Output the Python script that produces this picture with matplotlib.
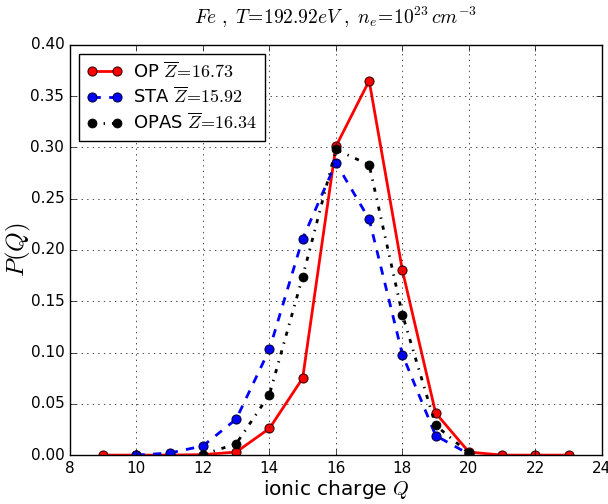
import matplotlib
matplotlib.use("Agg")
import matplotlib.pyplot as plt

plt.style.use("classic")
plt.rcParams["mathtext.fontset"] = "cm"
plt.rcParams["figure.facecolor"] = "white"

# ionic charge distributions
q_op = [9, 10, 11, 12, 13, 14, 15, 16, 17, 18, 19, 20, 21, 22, 23]
p_op = [0.0, 0.0, 0.0, 0.0005, 0.003, 0.026, 0.075, 0.301, 0.365, 0.180, 0.041, 0.003, 0.0, 0.0, 0.0]

q_sta = [10, 11, 12, 13, 14, 15, 16, 17, 18, 19, 20]
p_sta = [0.0, 0.002, 0.009, 0.035, 0.103, 0.211, 0.285, 0.230, 0.098, 0.019, 0.001]

q_opas = [12, 13, 14, 15, 16, 17, 18, 19, 20]
p_opas = [0.0005, 0.011, 0.059, 0.174, 0.298, 0.283, 0.137, 0.029, 0.002]

fig = plt.figure(figsize=(6.08, 5.04), dpi=100)
ax = fig.add_axes([0.115, 0.097, 0.875, 0.814])

ax.plot(q_op, p_op, "-o", color="red", lw=2, ms=6.5, mec="#400000", mew=0.8,
        label=r"OP $\overline{Z}\!=\!16.73$")
ax.plot(q_sta, p_sta, "--o", color="blue", lw=2, ms=6.5, mec="#000040", mew=0.8,
        label=r"STA $\overline{Z}\!=\!15.92$")
ax.plot(q_opas, p_opas, "-.o", color="black", lw=2, ms=6.5,
        label=r"OPAS $\overline{Z}\!=\!16.34$")

ax.set_xlim(8, 24)
ax.set_ylim(0, 0.40)
ax.set_xticks(range(8, 25, 2))
ax.set_yticks([0.0, 0.05, 0.10, 0.15, 0.20, 0.25, 0.30, 0.35, 0.40])
ax.set_yticklabels(["0.00", "0.05", "0.10", "0.15", "0.20", "0.25", "0.30", "0.35", "0.40"])
ax.tick_params(labelsize=11)
ax.grid(True, color="black", linestyle=":")

ax.set_xlabel(r"ionic charge $Q$", fontsize=14.5, labelpad=2)
ax.set_ylabel(r"$P(Q)$", fontsize=18, labelpad=-2)
ax.set_title(r"$Fe\ ,\ T\!=\!192.92eV\ ,\ n_e\!=\!10^{23}\,cm^{-3}$", fontsize=14, y=1.035)

ax.legend(loc="upper left", fontsize=13, numpoints=2, handlelength=2.0,
          labelspacing=0.3, borderpad=0.4, handletextpad=0.6)

fig.savefig("out.png", dpi=100)
